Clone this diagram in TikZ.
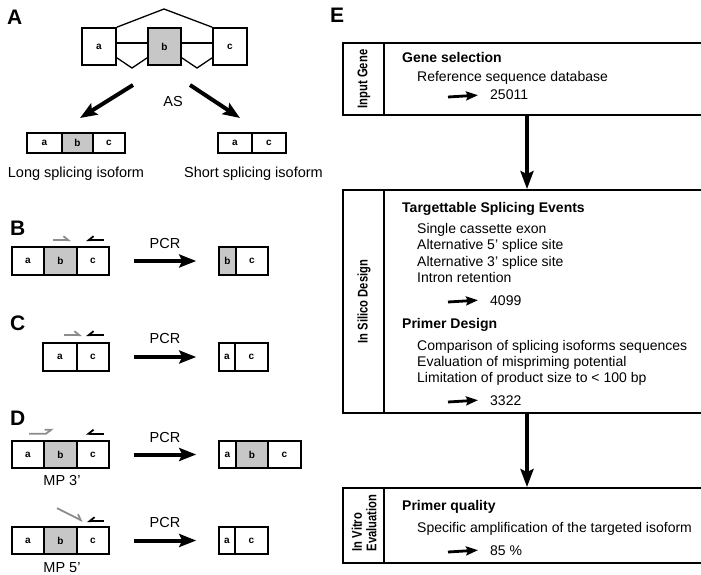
\documentclass[tikz,border=0pt]{standalone}
\usepackage{fontspec}
\setmainfont{Liberation Sans}
\usetikzlibrary{arrows.meta}

\begin{document}
\begin{tikzpicture}[x=1pt, y=-1pt]
\tikzstyle{exon}=[rectangle, draw=black, line width=1.6pt, inner sep=0pt, minimum width=32pt, minimum height=28pt, font=\fontsize{10}{12}\selectfont\bfseries]
\tikzstyle{exong}=[exon, fill=black!22]
\tikzstyle{txt}=[inner sep=0pt, anchor=base west, font=\fontsize{14}{16}\selectfont]
\tikzstyle{txtb}=[txt, font=\fontsize{14}{16}\selectfont\bfseries]
\tikzstyle{lbl}=[inner sep=0pt, anchor=base, font=\fontsize{14.5}{16}\selectfont]
\tikzstyle{panel}=[inner sep=0pt, anchor=base west, font=\fontsize{21}{24}\selectfont\bfseries]
\tikzstyle{stagebox}=[rectangle, draw=black, line width=1.8pt, minimum width=368pt, inner sep=0pt]
\tikzstyle{stagelab}=[rotate=90, inner sep=0pt, align=left, font=\fontsize{14}{14.5}\selectfont\bfseries]
\tikzstyle{bigarrow}=[line width=4pt, -{Stealth[length=17pt, width=13pt, inset=3pt]}]
\tikzstyle{flowarrow}=[line width=3.6pt, -{Stealth[length=18pt, width=13pt, inset=3pt]}]
\tikzstyle{numarrow}=[line width=2.8pt, -{Stealth[length=12pt, width=9pt, inset=2pt]}]
\tikzstyle{intron}=[line width=1.3pt]
\tikzstyle{fwd}=[line width=1.8pt, draw=black!45, -{Straight Barb[harpoon, length=5pt, width=8pt]}]
\tikzstyle{rev}=[line width=1.8pt, draw=black, -{Straight Barb[harpoon, swap, length=5pt, width=8pt]}]

\useasboundingbox (0,0) rectangle (701,575);
\clip (0,0) rectangle (701,575);

% A: gene and its two isoforms
\node[panel] (LA) at (7,25) {A};
\node[exon, minimum width=34pt, minimum height=37pt] (Aa) at (99,46.5) {a};
\node[exong, minimum width=33pt, minimum height=37pt] (Ab) at (164.5,46.5) {b};
\node[exon, minimum width=34pt, minimum height=37pt] (Ac) at (230,46.5) {c};
\coordinate (Atop) at (164,9);
\coordinate (Av1) at (132,68);
\coordinate (Av2) at (197,68);
\draw[intron] ([yshift=3.5pt]Aa.east) -- ([yshift=3.5pt]Ab.west);
\draw[intron] ([yshift=3.5pt]Ab.east) -- ([yshift=3.5pt]Ac.west);
\draw[intron] (Aa.north east) -- (Atop) -- (Ac.north west);
\draw[intron] ([yshift=8pt]Aa.south east) -- (Av1) -- ([yshift=8pt]Ab.south west);
\draw[intron] ([yshift=8pt]Ab.south east) -- (Av2) -- ([yshift=8pt]Ac.south west);
\coordinate (As1) at (133,85);
\coordinate (Ae1) at (80,118);
\coordinate (As2) at (190,85);
\coordinate (Ae2) at (240,118);
\draw[bigarrow] (As1) -- (Ae1);
\draw[bigarrow] (As2) -- (Ae2);
\node[lbl] (AS) at (173,107) {AS};
\node[exon, minimum width=35pt, minimum height=20pt] (La) at (44.5,143) {a};
\node[exong, minimum width=31pt, minimum height=20pt] (Lb) at (77.5,143) {b};
\node[exon, minimum width=32pt, minimum height=20pt] (Lc) at (109,143) {c};
\node[lbl] (Llab) at (76,177) {Long splicing isoform};
\node[exon, minimum width=34pt, minimum height=20pt] (Sa) at (235,143) {a};
\node[exon, minimum width=34pt, minimum height=20pt] (Sc) at (269,143) {c};
\node[lbl] (Slab) at (253.5,177) {Short splicing isoform};

% B
\node[panel] (LB) at (10,235) {B};
\node[exon] (Ba) at (28,261) {a};
\node[exong, minimum width=33pt] (Bb) at (60.5,261) {b};
\node[exon] (Bc) at (93,261) {c};
\draw[fwd] ([xshift=-7.5pt, yshift=6pt]Bb.north) -- ([xshift=10.5pt, yshift=6pt]Bb.north);
\draw[rev] ([xshift=11pt, yshift=6pt]Bc.north) -- ([xshift=-7pt, yshift=6pt]Bc.north);
\node[exong, minimum width=17pt] (Pb) at (227.5,261) {b};
\node[exon] (Pc) at (252,261) {c};
\draw[bigarrow] ([xshift=24pt]Bc.east) -- ([xshift=-22pt]Pb.west);
\node[lbl] (PCRb) at (165,248) {PCR};

% C
\node[panel] (LC) at (10,330) {C};
\node[exon, minimum width=34pt] (Ca) at (60,357) {a};
\node[exon] (Cc) at (93,357) {c};
\draw[fwd] ([xshift=-29pt, yshift=7pt]Cc.north) -- ([xshift=-11pt, yshift=7pt]Cc.north);
\draw[rev] ([xshift=11pt, yshift=7pt]Cc.north) -- ([xshift=-7pt, yshift=7pt]Cc.north);
\node[exon, minimum width=16pt] (Qa) at (227,357) {a};
\node[exon, minimum width=33pt] (Qc) at (251.5,357) {c};
\draw[bigarrow] ([xshift=24pt]Cc.east) -- ([xshift=-22pt]Qa.west);
\node[lbl] (PCRc) at (165,343) {PCR};

% D
\node[panel] (LD) at (10,425) {D};
\node[exon, minimum height=27pt] (Da) at (28,454.5) {a};
\node[exong, minimum width=33pt, minimum height=27pt] (Db) at (60.5,454.5) {b};
\node[exon, minimum height=27pt] (Dc) at (93,454.5) {c};
\draw[fwd] ([xshift=1pt, yshift=6.5pt]Da.north) -- ([xshift=18pt, yshift=6.5pt]Da.north) -- ([xshift=-7.5pt, yshift=12pt]Db.north);
\draw[rev] ([xshift=11pt, yshift=6.5pt]Dc.north) -- ([xshift=-7pt, yshift=6.5pt]Dc.north);
\node[lbl] (MP3) at (62,485) {MP 3'};
\node[exon, minimum width=17pt, minimum height=27pt] (Ra) at (227.5,454.5) {a};
\node[exong, minimum height=27pt] (Rb) at (252,454.5) {b};
\node[exon, minimum width=33pt, minimum height=27pt] (Rc) at (284.5,454.5) {c};
\draw[bigarrow] ([xshift=24pt]Dc.east) -- ([xshift=-22pt]Ra.west);
\node[lbl] (PCRd) at (165,442) {PCR};

\node[exon, minimum height=27pt] (Ea) at (28,540.5) {a};
\node[exong, minimum width=33pt, minimum height=27pt] (Eb) at (60.5,540.5) {b};
\node[exon, minimum height=27pt] (Ec) at (93,540.5) {c};
\draw[fwd] ([xshift=-3.5pt, yshift=18pt]Eb.north) -- ([xshift=-10pt, yshift=5pt]Ec.north);
\draw[rev] ([xshift=11pt, yshift=5pt]Ec.north) -- ([xshift=-6pt, yshift=5pt]Ec.north);
\node[lbl] (MP5) at (62,572) {MP 5'};
\node[exon, minimum width=16pt, minimum height=27pt] (Ta) at (227,540.5) {a};
\node[exon, minimum width=33pt, minimum height=27pt] (Tc) at (251.5,540.5) {c};
\draw[bigarrow] ([xshift=24pt]Ec.east) -- ([xshift=-22pt]Ta.west);
\node[lbl] (PCRe) at (165,527) {PCR};

% E: pipeline
\node[panel] (LE) at (330,23) {E};
\node[stagebox, minimum height=72pt] (G1) at (527,79) {};
\draw[line width=1.8pt] ([xshift=42pt]G1.north west) -- ([xshift=42pt]G1.south west);
\node[stagelab] (G1x0) at (364,79) {\scalebox{0.8}[1]{Input Gene}};
\node[txtb] (G1x1) at (402,63) {Gene selection};
\node[txt] (G1x2) at (417,82) {Reference sequence database};
\node[txt] (G1x3) at (490,100) {25011};
\coordinate (G1a) at (448,97);
\draw[numarrow] (G1a) -- ([xshift=-12pt]G1x3.west);

\node[stagebox, minimum height=223pt] (G2) at (527,301.5) {};
\draw[line width=1.8pt] ([xshift=42pt]G2.north west) -- ([xshift=42pt]G2.south west);
\node[stagelab] (G2x0) at (364,301.5) {\scalebox{0.8}[1]{In Silico Design}};
\node[txtb] (G2x1) at (402,212) {Targettable Splicing Events};
\node[txt] (G2x2) at (417,233) {Single cassette exon};
\node[txt] (G2x3) at (417,249) {Alternative 5' splice site};
\node[txt] (G2x4) at (417,266) {Alternative 3' splice site};
\node[txt] (G2x5) at (417,282) {Intron retention};
\node[txt] (G2x6) at (490,305) {4099};
\coordinate (G2a) at (448,302);
\draw[numarrow] (G2a) -- ([xshift=-12pt]G2x6.west);
\node[txtb] (G2x7) at (402,328) {Primer Design};
\node[txt] (G2x8) at (417,350) {Comparison of splicing isoforms sequences};
\node[txt] (G2x9) at (417,366) {Evaluation of mispriming potential};
\node[txt] (G2x10) at (417,382) {Limitation of product size to < 100 bp};
\node[txt] (G2x11) at (490,405) {3322};
\coordinate (G2b) at (448,402);
\draw[numarrow] (G2b) -- ([xshift=-12pt]G2x11.west);

\node[stagebox, minimum height=75pt] (G3) at (527,525.5) {};
\draw[line width=1.8pt] ([xshift=42pt]G3.north west) -- ([xshift=42pt]G3.south west);
\node[stagelab] (G3x0) at (364,523) {\scalebox{0.8}[1]{In Vitro}\\\scalebox{0.8}[1]{Evaluation}};
\node[txtb] (G3x1) at (402,510) {Primer quality};
\node[txt] (G3x2) at (417,532) {Specific amplification of the targeted isoform};
\node[txt] (G3x3) at (490,555) {85 \%};
\coordinate (G3a) at (448,552);
\draw[numarrow] (G3a) -- ([xshift=-12pt]G3x3.west);

\draw[flowarrow] (G1.south) -- (G2.north);
\draw[flowarrow] (G2.south) -- (G3.north);
\end{tikzpicture}
\end{document}
